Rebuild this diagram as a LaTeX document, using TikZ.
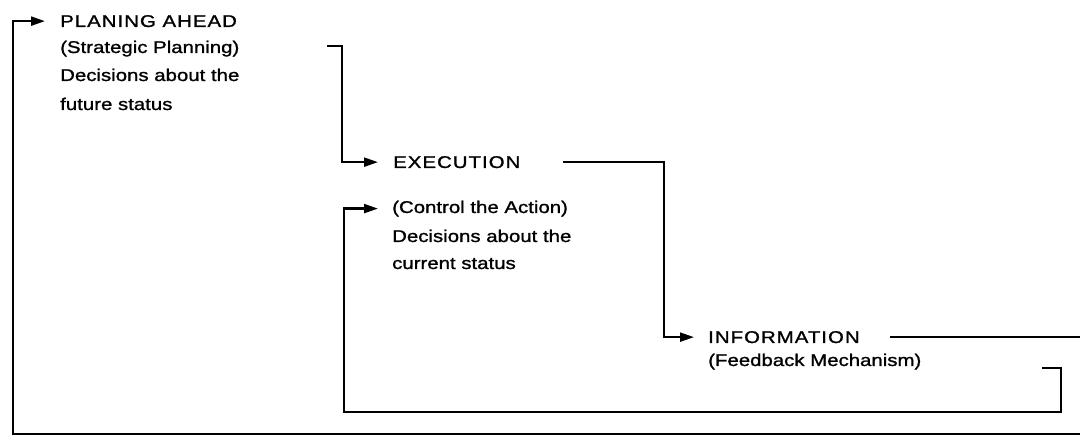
\documentclass[tikz,border=0pt]{standalone}
\usepackage{fontspec}
\setmainfont{Liberation Sans}[FakeStretch=1.2,FakeBold=1.2]
\usetikzlibrary{arrows.meta}
\newcommand{\capsline}[1]{{\addfontfeature{LetterSpace=6}#1}}
\begin{document}
\begin{tikzpicture}[x=1pt,y=-1pt,
  txt/.style={anchor=base west, inner sep=0pt, font=\fontsize{17}{20}\selectfont},
  link/.style={line width=2.2pt, line join=miter},
  feed/.style={link, -{Triangle[length=14pt,width=9pt]}}]
\useasboundingbox (0,0) rectangle (1080,438);

% planning block
\node[txt] (plan)  at (60,27)  {\capsline{PLANING AHEAD}};
\node[txt] (planA) at (60,53)  {(Strategic Planning)};
\node[txt] (planB) at (60,81)  {Decisions about the};
\node[txt] (planC) at (60,110) {future status};

% execution block
\node[txt] (exec)  at (393,168) {\capsline{EXECUTION}};
\node[txt] (ctrl)  at (392,213) {(Control the Action)};
\node[txt] (ctrlB) at (392,242) {Decisions about the};
\node[txt] (ctrlC) at (392,269) {current status};

% information block
\node[txt] (info)  at (708,343) {\capsline{INFORMATION}};
\node[txt] (feedb) at (708,366) {(Feedback Mechanism)};

% free ends of the connectors
\coordinate (p0) at (327,46);
\coordinate (f0) at (1042,368);

% planning -> execution
\draw[feed] (p0) -- (342,46) |- ([xshift=-15pt]exec.west);
% execution -> information
\draw[feed] (563,162) -| (664,250) |- ([xshift=-14pt]info.west);
% feedback -> control of the action
\draw[feed] (f0) -- (1061,368) |- (344,412) |- ([xshift=-14pt]ctrl.west);
% information -> planning ahead (outer loop)
\draw[feed] (890,337) -| (1095,434) -| (13,100) |- ([xshift=-15pt]plan.west);
\end{tikzpicture}
\end{document}
